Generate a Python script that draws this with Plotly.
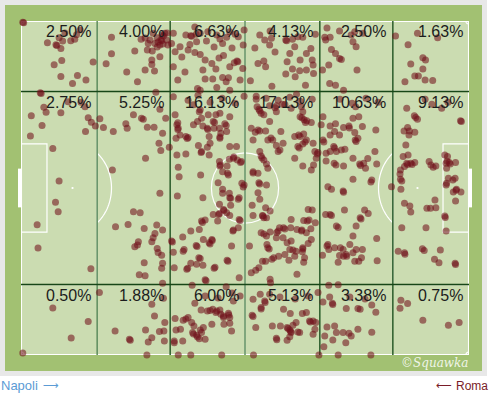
import numpy as np
import plotly.graph_objects as go

# ---------------- DATA (pitch coordinates 0-100, y measured from top touchline) ----------------
z_t1 = [(0.4,0.4),(0.6,0.5),(5.9,6.5),(7.8,7.1),(8.0,7.3),(8.5,5.0),(9.3,6.0),(8.9,8.2),(11.1,5.9),(12.0,5.5),(12.4,4.1),(9.1,11.8),(7.4,13.1),(16.1,12.3),(8.9,16.6),(12.6,16.3),(11.5,18.7),(14.5,17.7),(9.8,3.6),(13.2,2.7)]
z_t2 = [(25.4,9.0),(23.6,15.3),(26.0,18.2),(27.7,14.7),(29.8,15.0),(29.2,11.7),(29.2,13.0),(31.0,10.7),(28.2,8.7),(29.3,9.0),(26.8,5.5),(28.4,6.7),(29.9,6.7),(30.4,5.0),(31.2,5.7),(31.4,5.9),(31.5,4.2),(32.1,3.7),(31.0,7.2),(32.5,5.7),(29.5,3.7),(31.8,4.5),(20.2,4.9),(20.2,9.8),(19.0,12.8),(30.6,6.3),(31.7,6.9),(28.8,5.7),(27.7,5.1),(32.6,3.6),(30.4,7.8),(32.8,7.2)]
z_t3 = [(34.0,3.7),(33.6,6.7),(34.4,9.2),(35.5,7.7),(36.8,4.2),(37.9,4.4),(39.1,4.0),(39.2,6.2),(37.7,7.0),(37.3,8.7),(38.8,9.4),(40.0,10.0),(41.4,6.0),(44.4,5.4),(45.9,4.9),(45.0,6.7),(47.8,4.0),(48.4,12.2),(47.6,12.5),(46.6,13.7),(49.5,14.2),(42.6,12.7),(43.5,14.4),(45.2,10.3),(34.0,13.7),(41.1,17.4),(42.8,17.4),(45.0,16.9),(45.8,18.2),(46.3,17.0),(39.4,20.2),(43.7,19.9),(46.6,20.7),(40.0,20.7),(40.0,3.7),(41.7,3.2),(43.7,4.2),(46.6,3.2),(48.5,4.7),(38.1,4.6),(48.2,12.0),(35.9,10.8),(41.1,11.7),(43.1,7.8),(47.1,8.1),(49.6,7.2),(48.9,17.7),(36.6,15.3),(35.0,17.7),(40.6,14.7),(44.2,11.1),(49.8,2.7),(38.8,1.8)]
z_t4 = [(53.3,4.2),(54.4,5.7),(55.5,7.2),(55.9,5.2),(59.1,5.7),(60.6,5.5),(61.1,7.7),(61.8,4.7),(62.9,4.9),(64.7,8.2),(63.7,9.7),(60.0,9.7),(59.4,12.2),(60.6,14.4),(62.2,14.9),(63.7,14.7),(65.0,11.7),(65.2,13.2),(65.7,4.0),(65.3,15.7),(52.9,12.7),(54.2,12.0),(54.6,13.7),(51.2,17.9),(59.1,15.9),(61.2,16.7),(63.5,19.2),(55.6,3.0),(56.0,19.5),(56.7,9.3),(59.3,5.9),(62.3,11.7),(52.2,8.1)]
z_t5 = [(67.8,4.9),(69.0,4.9),(67.3,14.7),(69.3,8.5),(70.2,9.7),(71.1,11.2),(71.5,11.5),(68.7,13.2),(68.9,18.7),(70.2,19.2),(72.0,20.7),(71.1,3.0),(73.7,4.2),(74.1,6.2),(74.8,7.7),(75.0,14.7),(68.0,5.7),(74.5,3.2),(76.3,3.7),(68.3,2.1)]
z_t6 = [(83.6,4.5),(88.5,3.7),(93.0,5.0),(86.4,7.1),(87.0,12.9),(89.7,11.0),(90.3,11.7),(89.7,14.4),(87.9,16.5),(88.7,16.5),(85.7,18.2),(90.2,17.7),(91.9,17.8)]

z_m1 = [(4.3,21.5),(4.5,21.7),(5.1,25.8),(5.6,27.3),(8.9,27.5),(2.3,28.4),(4.7,31.3),(2.1,34.4),(13.4,24.3),(14.3,25.7),(10.5,24.2),(15.0,29.0),(15.7,30.3),(16.6,31.4),(14.4,33.1),(7.1,38.2),(8.5,47.9),(7.7,54.3),(8.3,57.1),(3.6,61.0),(3.8,68.0),(15.6,74.2)]
z_m2 = [(30.1,21.3),(31.0,26.4),(25.1,28.1),(26.9,29.1),(27.3,29.4),(23.4,30.8),(23.7,32.1),(28.2,31.8),(29.7,31.8),(32.3,29.1),(31.6,33.6),(30.8,36.6),(31.2,38.8),(33.1,37.8),(27.8,41.1),(17.6,29.3),(18.4,31.9),(20.6,33.1),(20.4,44.6),(31.0,51.6),(21.1,61.6),(23.9,60.9),(25.1,57.1),(26.6,57.4),(27.5,62.1),(30.3,61.1),(31.6,62.6),(29.9,63.6),(29.5,64.9),(29.2,66.1),(26.2,66.1),(25.4,67.6),(26.0,67.1),(30.4,68.1),(30.6,69.3),(31.4,70.1),(27.5,72.4),(31.6,72.5),(31.4,74.0),(26.4,76.0),(27.7,76.3),(31.6,78.5)]
z_m3 = [(34.0,22.7),(34.4,28.1),(34.8,31.1),(35.1,32.1),(35.5,34.1),(36.8,34.6),(37.3,34.9),(34.6,35.1),(38.5,31.1),(39.4,30.1),
        (40.3,29.1),(40.6,31.4),(41.6,32.1),(41.8,28.1),(43.5,28.1),(42.9,30.1),(43.1,32.1),(44.3,32.1),(45.8,31.3),(45.9,33.1),
        (44.6,33.6),(42.0,34.6),(42.2,36.6),(44.4,35.1),(39.6,37.3),(41.6,37.8),(40.3,39.1),(42.0,40.1),(36.8,39.8),(34.8,40.1),
        (35.1,43.8),(35.3,46.6),(40.1,46.1),(44.3,42.1),(44.4,43.4),(46.0,43.4),(45.0,45.1),(46.1,45.6),(46.6,37.6),(48.1,37.6),
        (47.4,41.1),(48.3,41.6),(49.0,42.4),(46.5,41.4),(49.3,48.6),(49.8,49.1),(38.5,25.1),(39.8,27.2),(44.4,27.6),(46.6,28.7),
        (44.0,48.4),(45.0,50.4),(46.5,51.6),(34.9,52.4),(33.6,65.9),(34.0,69.2),(34.2,73.9),(36.1,64.7),(36.2,68.9),(37.9,62.9),
        (39.8,62.4),(39.1,67.2),(40.7,65.4),(42.0,66.4),(42.6,65.4),(40.3,59.9),(41.1,59.6),(42.9,57.9),(44.3,57.6),(43.9,59.9),
        (44.3,54.9),(45.2,56.4),(45.9,57.4),(46.6,58.2),(46.8,55.2),(48.5,53.4),(48.7,59.4),(48.5,61.9),(47.3,62.9),(45.0,51.6),
        (46.6,52.9),(48.7,52.9),(40.6,52.9),(37.9,72.5),(39.7,70.9),(39.2,72.8),(40.6,73.1),(37.0,74.3),(43.1,74.0),(41.1,77.5),
        (46.0,71.6),(47.0,67.4),(48.7,76.9),
        (35.0,30.5),(45.5,30.8),(46.3,46.1),(49.6,49.7),(40.0,26.6),(36.4,68.4),(42.2,66.8),(40.5,60.3),(41.3,77.8),
        (37.3,23.7),(39.5,22.2),(42.2,24.3),(44.9,23.1),(47.8,24.6),(49.8,22.5),
        (35.0,32.5),(37.1,35.2),(41.7,32.5),(43.2,30.4),(44.4,34.7),(40.2,39.4),(44.5,43.1),(47.5,40.7),(49.2,42.1),(46.8,53.1),
        (45.3,56.7),(44.1,57.9),(48.9,59.7),(47.4,62.6),(39.3,67.5),(42.7,65.7),(33.8,66.2),(40.0,71.1),(37.2,74.0),(43.3,73.7),(46.2,71.9)]
z_m4 = [(52.5,22.5),(52.7,25.7),(53.1,26.4),(53.6,27.6),(54.2,28.1),(55.5,25.4),(57.0,25.4),(57.0,27.2),(58.3,24.9),(60.3,26.1),
        (62.6,25.7),(62.9,27.2),(62.3,28.7),(63.2,29.6),(63.5,30.4),(64.8,30.4),(55.5,30.1),(51.4,32.1),(52.3,33.3),(53.3,32.9),
        (54.6,32.9),(55.1,35.6),(56.2,35.6),(57.0,37.3),(58.5,36.6),(57.4,39.1),(51.8,35.6),(53.3,39.1),(53.6,40.4),(54.2,41.6),
        (54.8,42.8),(55.1,44.1),(51.8,45.1),(52.9,45.6),(53.1,48.4),(54.8,49.1),(61.1,34.6),(62.0,34.1),(63.1,33.8),(61.8,37.6),
        (62.9,36.8),(63.7,35.6),(65.2,36.6),(65.6,39.1),(66.1,39.8),(61.1,41.1),(62.9,43.4),(65.3,43.1),(65.9,41.1),(64.8,44.6),
        (61.5,21.9),(58.0,33.1),(52.9,51.4),(53.3,53.4),(51.6,55.2),(54.6,55.9),(55.6,56.9),(53.9,58.2),(54.2,58.9),(54.8,58.9),
        (51.8,58.2),(53.6,63.4),(54.8,64.4),(55.6,63.2),(57.0,64.9),(57.4,62.9),(57.7,61.9),(58.6,61.9),(58.5,64.9),(60.2,61.9),
        (60.3,59.4),(61.6,62.4),(62.6,62.9),(63.1,59.7),(63.9,59.9),(64.1,56.4),(65.0,56.6),(65.7,60.4),(64.7,62.2),(63.7,63.4),
        (64.8,65.4),(64.1,66.6),(62.9,67.9),(62.8,69.1),(63.3,70.9),(61.4,68.9),(61.1,70.4),(60.3,65.9),(59.4,66.4),(60.0,68.4),
        (58.9,69.9),(57.5,70.4),(56.4,70.9),(55.1,67.9),(54.9,66.9),(51.0,67.4),(54.6,71.9),(53.9,71.9),(53.1,73.9),(52.4,74.6),
        (51.4,75.4),(55.6,77.3),(61.6,75.8),(59.8,71.6),(63.1,72.2),(55.7,78.4),
        (54.7,23.1),(57.4,23.7),(60.0,22.8),(62.3,24.0),(65.0,23.4),
        (53.3,26.9),(54.0,58.4),(55.4,68.3),(57.1,63.3),(62.1,38.0),(66.3,39.4),(52.9,32.6),(55.8,35.0),(57.8,38.6),(53.8,41.0),
        (62.3,34.6),(63.4,36.2),(63.8,29.9),(62.7,29.0),(52.5,23.4),(56.7,26.0),(58.9,25.0),(51.8,45.5),(53.3,48.8),(64.3,59.6),
        (62.7,62.6),(58.9,62.3),(54.2,63.8),(60.7,68.6),(62.9,68.3),(56.0,71.3)]
z_m5 = [(67.4,28.7),(67.0,31.1),(69.0,31.4),(70.2,30.8),(70.0,33.1),(69.0,34.1),(71.1,34.1),(72.0,31.9),(73.2,31.4),(74.1,29.1),
        (75.4,28.7),(74.7,25.7),(76.2,31.6),(74.5,33.4),(75.2,35.1),(74.6,35.6),(67.4,35.6),(69.8,37.6),(69.0,39.1),(70.4,39.1),
        (71.5,38.6),(68.1,39.6),(68.1,41.9),(69.9,42.6),(72.0,43.4),(74.1,41.1),(75.6,42.8),(76.5,42.6),(76.9,44.1),(68.5,49.6),
        (69.3,50.4),(74.1,47.4),(79.2,32.6),(79.4,42.8),(78.3,47.6),(77.4,41.2),(82.7,49.6),(71.9,50.9),(72.2,56.6),(76.7,56.6),
        (75.7,58.9),(68.0,57.9),(69.0,57.9),(70.4,61.4),(74.8,61.4),(74.1,64.4),(73.4,66.9),(71.9,68.4),(71.3,67.9),(70.0,67.9),
        (68.5,66.9),(68.7,68.4),(71.1,70.2),(72.0,70.4),(72.6,69.9),(70.8,72.2),(74.1,69.4),(74.8,68.4),(76.2,68.4),(76.0,70.9),
        (74.5,71.9),(75.4,71.9),(79.4,65.1),(79.5,71.8),(77.5,57.6),(67.3,70.1),
        (71.2,23.4),(73.9,24.6),(77.0,23.1),(79.7,24.3),
        (79.0,39.1),(73.3,32.0),(74.8,36.1),(70.0,38.0),(75.8,43.3),(72.7,70.4),(68.3,67.4),(72.0,51.3),(75.9,59.3),(69.3,58.2),
        (70.8,61.8),(67.6,36.2),(70.3,43.1),(72.3,38.4),(78.1,48.2)]
z_m6 = [(86.1,26.1),(87.8,28.4),(88.5,29.4),(91.7,24.9),(93.9,26.1),(98.1,29.9),(86.3,31.9),(85.5,32.9),(86.7,32.9),(86.6,34.1),
        (87.9,33.3),(85.9,37.1),(85.3,40.6),(86.4,40.1),(86.1,42.6),(87.0,42.6),(87.9,42.4),(85.6,43.6),(84.7,44.6),(84.6,45.8),
        (84.7,47.4),(91.1,42.1),(91.5,43.1),(92.0,43.8),(94.6,40.1),(95.2,40.6),(94.9,42.6),(95.6,42.4),(97.0,42.4),(95.0,44.1),
        (95.4,47.1),(96.9,47.1),(95.0,48.6),(97.2,50.4),(84.8,50.4),(85.6,54.6),(86.8,55.4),(87.0,57.2),(85.0,61.9),(90.4,61.9),
        (90.6,56.1),(91.4,56.1),(92.6,55.9),(92.4,53.6),(94.6,58.4),(94.9,62.9),(97.0,53.9),(96.5,51.2),(98.2,51.2),(84.2,68.9),
        (85.6,69.4),(89.6,68.2),(90.0,68.7),(93.6,68.6),(92.3,71.3),(93.3,72.4),(96.9,72.5),(90.2,23.4),(95.3,24.3),
        (88.1,28.9),(98.3,30.1),(86.3,43.0),(95.1,42.0),(95.8,42.8),(97.1,50.7),(94.7,58.8),(85.7,69.8),(97.0,72.9),(87.3,43.0),
        (94.9,49.1),(96.4,47.6),(85.0,47.9),(92.6,43.4)]

z_b1 = [(7.1,85.9),(15.0,90.0),(11.2,94.9),(0.4,99.4)]
z_b2 = [(29.2,84.8),(29.8,88.3),(27.8,92.5),(24.2,95.3),(24.4,95.6),(28.4,96.1),(29.2,94.8),(30.9,93.0),(32.1,90.3),(31.9,92.8),(32.0,95.8),(28.1,100.0),(17.5,81.3),(21.0,92.8),(31.8,83.0)]
z_b3 = [(38.2,79.1),(45.8,79.6),(47.4,83.8),(40.2,86.5),(41.6,86.8),(42.8,86.3),(43.5,87.3),(44.4,86.5),(44.6,87.8),(45.2,88.8),(46.3,87.5),(46.6,88.8),(45.3,90.8),(42.6,90.8),(37.3,88.8),(38.1,90.3),(38.6,91.3),(38.3,93.3),(39.2,94.1),(40.3,93.3),(40.7,91.8),(39.8,95.1),(41.1,95.3),(36.2,89.6),(34.4,89.1),(35.6,92.3),(34.6,92.5),(34.2,95.8),(36.1,95.8),(35.1,100.0),(37.9,100.0),(44.8,100.0),(47.0,92.8),(46.6,90.5),(48.9,82.3),(38.8,84.5),(41.1,82.3),(44.0,82.9),(47.1,81.4),(45.2,88.3),(38.5,93.7),(39.4,94.6),(34.2,96.3),(42.2,86.7),(46.4,88.0),(40.0,92.5),(36.8,89.2),(43.7,86.8)]
z_b4 = [(53.4,81.8),(51.8,83.3),(54.4,83.8),(53.6,85.8),(51.6,88.1),(52.4,91.8),(56.1,91.3),(57.9,91.3),(57.0,95.0),(59.4,91.8),(60.0,92.5),(60.7,91.1),(61.4,90.3),(60.3,93.3),(59.4,95.6),(60.0,94.5),(62.2,93.3),(62.8,87.6),(63.7,87.3),(64.4,89.8),(65.2,89.8),(65.8,90.3),(65.6,92.3),(65.2,93.8),(58.6,86.3),(60.1,87.6),(51.9,100.0),(66.5,100.0),(66.3,81.3),(55.5,81.8),(57.8,82.6),(61.2,83.2),(64.1,82.3),(60.2,93.0),(64.6,90.1),(59.6,92.1),(57.1,95.4),(51.8,88.5),(61.8,93.1),(53.6,86.2),(54.5,84.3)]
z_b5 = [(68.7,79.1),(70.8,79.0),(67.4,84.1),(68.9,82.6),(69.5,84.5),(72.6,86.1),(75.2,86.1),(75.7,86.3),(67.8,94.3),(68.3,91.6),(70.0,91.3),(70.4,93.3),(69.6,95.5),(71.9,93.3),(73.2,93.5),(73.7,94.3),(75.2,92.3),(70.8,100.0),(79.2,87.2),(78.3,85.0),(78.3,93.2),(78.1,100.0),(72.5,96.3),(67.6,97.5),(73.4,82.6),(76.8,83.2),(69.6,84.9)]
z_b6 = [(84.8,83.6),(84.6,86.0),(86.3,84.6),(89.7,89.6),(95.4,91.1),(97.8,90.3)]

# zone shares (%) as printed on the chart
pct_top = [2.50, 4.00, 6.63, 4.13, 2.50, 1.63]
pct_mid = [2.75, 5.25, 16.13, 17.13, 10.63, 9.13]
pct_bot = [0.50, 1.88, 6.00, 5.13, 3.38, 0.75]

# zone grid edges (pitch units)
x_edges = [0, 17, 33.3, 50, 66.7, 83, 100]
y_edges = [0, 21.1, 78.9, 100]

team_left = "Napoli"
team_right = "Roma"

# ---------------- FIGURE ----------------
W, H = 492, 395
ML, MR, MT, MB = 21, 23, 21, 40
PW, PH = W - ML - MR, H - MT - MB


def pxx(px):
    return (px - ML) / PW


def pxy(py):
    return (H - MB - py) / PH


zones = [z_t1, z_t2, z_t3, z_t4, z_t5, z_t6,
         z_m1, z_m2, z_m3, z_m4, z_m5, z_m6,
         z_b1, z_b2, z_b3, z_b4, z_b5, z_b6]
xs = [p[0] for z in zones for p in z]
ys = [p[1] for z in zones for p in z]

fig = go.Figure()
fig.add_trace(go.Scatter(
    x=xs, y=ys, mode="markers",
    marker=dict(size=7, color="rgba(112,16,26,0.57)", line=dict(width=0)),
    cliponaxis=False, hoverinfo="skip", showlegend=False))

shapes = []
# outer frame and dark green surround
shapes.append(dict(type="rect", xref="paper", yref="paper", x0=pxx(0), x1=pxx(487), y0=pxy(376), y1=pxy(0),
                   fillcolor="#e8e8e8", line=dict(width=0), layer="below"))
shapes.append(dict(type="rect", xref="paper", yref="paper", x0=pxx(5), x1=pxx(482), y0=pxy(371), y1=pxy(5),
                   fillcolor="#a2c172", line=dict(width=0), layer="below"))

WL = dict(color="white", width=1.2)


def dline(x0, y0, x1, y1, line):
    return dict(type="line", xref="x", yref="y", x0=x0, y0=y0, x1=x1, y1=y1, line=line, layer="below")


def drect(x0, y0, x1, y1, line, fill=None):
    d = dict(type="rect", xref="x", yref="y", x0=x0, y0=y0, x1=x1, y1=y1, line=line, layer="below")
    if fill:
        d["fillcolor"] = fill
    return d


def arc_path(cx, cy, rx, ry, a0, a1, n=40):
    t = np.radians(np.linspace(a0, a1, n))
    px_ = cx + rx * np.cos(t)
    py_ = cy + ry * np.sin(t)
    return "M " + " L ".join(f"{a:.3f},{b:.3f}" for a, b in zip(px_, py_))


# pitch surface + markings
shapes.append(drect(0, 0, 100, 100, dict(width=0), fill="#cbdcb1"))
shapes.append(drect(0.1, 0.1, 99.9, 99.9, WL))
shapes.append(dline(50, 0, 50, 100, WL))
shapes.append(drect(0, 21.1, 17, 78.9, WL))
shapes.append(drect(83, 21.1, 100, 78.9, WL))
shapes.append(drect(0, 36.8, 5.8, 63.2, WL))
shapes.append(drect(94.2, 36.8, 100, 63.2, WL))
shapes.append(dict(type="circle", xref="x", yref="y", x0=42.5, x1=57.5, y0=39.5, y1=60.5, line=WL, layer="below"))
th = np.degrees(np.arccos((17 - 11.5) / 8.7))
shapes.append(dict(type="path", xref="x", yref="y", path=arc_path(11.5, 50, 8.7, 13.45, -th, th), line=WL, layer="below"))
shapes.append(dict(type="path", xref="x", yref="y", path=arc_path(88.5, 50, 8.7, 13.45, 180 - th, 180 + th), line=WL, layer="below"))
for (cx, cy, a0, a1) in [(0, 0, 0, 90), (100, 0, 90, 180), (0, 100, 270, 360), (100, 100, 180, 270)]:
    shapes.append(dict(type="path", xref="x", yref="y", path=arc_path(cx, cy, 0.7, 0.9, a0, a1, 12), line=WL, layer="below"))
for sx in [11.5, 50, 88.5]:
    shapes.append(dict(type="circle", xref="x", yref="y", x0=sx - 0.25, x1=sx + 0.25, y0=49.67, y1=50.33,
                       fillcolor="white", line=dict(width=0), layer="below"))
# goals (outside the pitch)
shapes.append(dict(type="rect", xref="paper", yref="y", x0=pxx(18), x1=pxx(21), y0=44.2, y1=55.8,
                   fillcolor="white", line=dict(width=0), layer="above"))
shapes.append(dict(type="rect", xref="paper", yref="y", x0=pxx(469), x1=pxx(472), y0=44.2, y1=55.8,
                   fillcolor="white", line=dict(width=0), layer="above"))

# zone grid
for xe in x_edges[1:-1]:
    col = "#5d8c5d" if xe in (17, 50) else "#2a5c2a"
    shapes.append(dline(xe, 0, xe, 100, dict(color=col, width=1.5)))
for ye in y_edges[1:-1]:
    shapes.append(dline(0, ye, 100, ye, dict(color="#174617", width=1.5)))

annotations = []
for r, vals in enumerate([pct_top, pct_mid, pct_bot]):
    for c, v in enumerate(vals):
        annotations.append(dict(x=x_edges[c + 1] - 1.0, y=y_edges[r] + 3.25, xref="x", yref="y",
                                text=f"{v:.2f}%", showarrow=False, xanchor="right", yanchor="middle",
                                font=dict(family="Liberation Sans, Arial", size=16, color="#1c1c1c")))

ly = pxy(386)
annotations.append(dict(x=pxx(-1), y=ly, xref="paper", yref="paper", text=team_left, showarrow=False,
                        xanchor="left", yanchor="middle", font=dict(family="Liberation Sans, Arial", size=13, color="#5b9bd5")))
annotations.append(dict(x=pxx(41), y=ly, xref="paper", yref="paper", text="\u27f6", showarrow=False,
                        xanchor="left", yanchor="middle", font=dict(family="DejaVu Sans", size=11, color="#5b9bd5")))
annotations.append(dict(x=pxx(434), y=ly, xref="paper", yref="paper", text="\u27f5", showarrow=False,
                        xanchor="left", yanchor="middle", font=dict(family="DejaVu Sans", size=11, color="#7a1c28")))
annotations.append(dict(x=pxx(490), y=ly, xref="paper", yref="paper", text=team_right, showarrow=False,
                        xanchor="right", yanchor="middle", font=dict(family="Liberation Sans, Arial", size=12, color="#7a1c28")))
annotations.append(dict(x=pxx(470), y=pxy(363), xref="paper", yref="paper", text="\u00a9Squawka", showarrow=False,
                        xanchor="right", yanchor="middle",
                        font=dict(family="DejaVu Serif", size=12, color="rgba(255,255,255,0.85)", style="italic")))

fig.update_layout(
    width=W, height=H, autosize=False,
    margin=dict(l=ML, r=MR, t=MT, b=MB, pad=0),
    paper_bgcolor="white", plot_bgcolor="#cbdcb1",
    xaxis=dict(range=[0, 100], visible=False, fixedrange=True),
    yaxis=dict(range=[100, 0], visible=False, fixedrange=True),
    showlegend=False, shapes=shapes, annotations=annotations,
)

fig.write_html("out.html", config={"displayModeBar": False},
               post_script="document.body.style.margin='0';document.body.style.overflow='hidden';")
